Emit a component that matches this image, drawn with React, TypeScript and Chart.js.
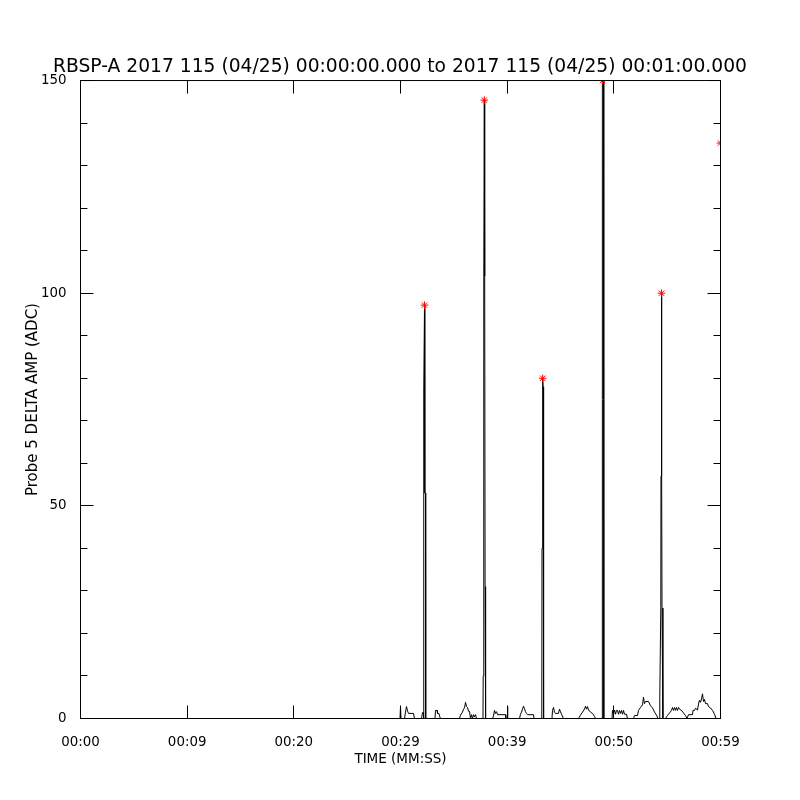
import React, { useEffect, useRef } from 'react';
import { Chart, registerables } from 'chart.js';

Chart.register(...registerables);

const TITLE = 'RBSP-A 2017 115 (04/25) 00:00:00.000 to 2017 115 (04/25) 00:01:00.000';
const X_TITLE = 'TIME (MM:SS)';
const Y_TITLE = 'Probe 5 DELTA AMP (ADC)';

const X_TICK_VALUES = [0, 10, 20, 30, 40, 50, 60];
const X_TICK_LABELS = ['00:00', '00:09', '00:20', '00:29', '00:39', '00:50', '00:59'];
const Y_MAJOR_STEP = 50;
const Y_MINOR_STEP = 10;
const Y_MAX = 150;

// seconds after 00:00:00
const TIME_S = [
  0, 29.953, 30.0, 30.047, 30.375, 30.469, 30.563, 30.656, 30.75, 31.219, 31.313,
  31.969, 32.063, 32.138, 32.166, 32.194, 32.25, 32.278, 32.344, 32.363,
  33.234, 33.281, 33.422, 33.469, 33.609, 33.656, 33.75,
  35.531, 35.625, 35.813, 35.906, 36.0, 36.094, 36.188, 36.281, 36.375, 36.469, 36.563,
  36.656, 36.75, 36.844, 36.938, 37.031, 37.125,
  37.734, 37.753, 37.809, 37.856, 37.894, 37.931, 37.969, 37.988,
  38.625, 38.719, 38.813, 38.906, 39.0, 39.094, 39.844, 39.872, 40.003, 40.031, 40.059,
  41.156, 41.25, 41.344, 41.438, 41.531, 41.625, 41.719, 41.813, 41.906, 42.469, 42.516,
  43.247, 43.266, 43.331, 43.369, 43.406, 43.425,
  44.203, 44.25, 44.344, 44.438, 44.531, 44.813, 44.906, 45.0, 45.094, 45.281,
  46.688, 46.875, 47.063, 47.25, 47.344, 47.438, 47.531, 47.625, 47.813, 48.0, 48.188, 48.281,
  48.891, 48.909, 48.938, 49.031, 49.05, 49.069,
  49.828, 49.875, 49.969, 50.063, 50.156, 50.25, 50.344, 50.438, 50.531, 50.625, 50.719,
  50.813, 50.906, 51.0, 51.188, 51.281,
  51.844, 51.938, 52.219, 52.313, 52.5, 52.688, 52.781, 52.875, 52.969, 53.25, 53.438,
  53.625, 53.813, 54.0, 54.141,
  54.281, 54.309, 54.403, 54.422, 54.469, 54.497, 54.516, 54.591, 54.609,
  54.844, 55.031, 55.219, 55.406, 55.5, 55.594, 55.688, 55.781, 55.875, 55.969, 56.063,
  56.156, 56.344, 56.531, 56.719, 56.859,
  57.0, 57.375, 57.422, 57.563, 57.656, 57.844, 57.938, 58.031, 58.125, 58.219, 58.313,
  58.406, 58.5, 58.594, 58.781, 58.875, 59.063, 59.25, 59.438, 59.578, 60.0,
];

// Probe 5 delta amplitude (ADC)
const AMP = [
  0, 0, 2.8, 0, 0, 1.5, 2.8, 1.8, 1.2, 1.2, 0,
  0, 1.4, 1.4, 0, 77, 97.2, 53, 53, 0,
  0, 1.9, 1.9, 1.2, 1.2, 0.6, 0,
  0, 0.8, 1.5, 2.2, 2.5, 3.8, 2.8, 2.6, 1.7, 1.7, 0,
  0.9, 0, 0.9, 0.4, 0.9, 0,
  0, 10, 104, 145.4, 104, 31, 31, 0,
  0, 0.6, 1.9, 1.2, 1.6, 0.9, 0.9, 0, 0, 2.8, 0,
  0, 1.0, 1.5, 2.2, 2.9, 2.3, 1.6, 1.2, 0.9, 0.9, 0,
  0, 40, 80, 78, 40, 0,
  0, 1.9, 2.6, 1.5, 1.2, 1.2, 2.2, 1.6, 1.0, 0,
  0, 0.8, 1.5, 2.2, 2.9, 2.2, 2.8, 2.0, 1.5, 1.2, 0.5, 0,
  0, 90, 150, 150, 90, 0,
  0, 1.9, 1.0, 2.0, 1.0, 1.9, 1.9, 1.0, 1.9, 1.2, 1.9,
  1.0, 1.9, 1.0, 1.0, 0,
  0, 0.7, 0.7, 1.9, 2.6, 3.2, 5.0, 3.5, 4.0, 4.0, 3.0,
  2.5, 1.5, 0.8, 0,
  0, 5, 26, 57, 100, 57, 26, 26, 0,
  0, 0.7, 1.3, 1.9, 2.6, 1.9, 2.6, 1.9, 2.6, 1.9, 2.6,
  2.2, 1.9, 1.3, 0.7, 0,
  0.9, 0.9, 1.9, 1.9, 2.4, 2.0, 3.4, 4.3, 3.8, 4.6, 5.8,
  4.0, 4.5, 3.5, 3.5, 2.8, 2.5, 1.9, 1.0, 0, 0,
];

// marked peaks (red stars)
const PEAK_TIME_S = [32.25, 37.856, 43.331, 48.938, 54.469, 60.0];
const PEAK_AMP = [97.2, 145.4, 80, 150, 100, 135.3];

const FONT = 'DejaVu Sans';

const idlFrame = {
  id: 'idlFrame',
  afterDatasetsDraw(chart: any) {
    const { ctx, chartArea } = chart;
    const { left, right, top, bottom } = chartArea;
    const xs = chart.scales.x;
    const ys = chart.scales.y;
    ctx.save();
    ctx.strokeStyle = '#000';
    ctx.lineWidth = 1;
    ctx.strokeRect(left, top, right - left, bottom - top);
    ctx.beginPath();
    for (const v of X_TICK_VALUES) {
      const px = Math.floor(xs.getPixelForValue(v)) + 0.5;
      ctx.moveTo(px, bottom);
      ctx.lineTo(px, bottom - 13);
      ctx.moveTo(px, top);
      ctx.lineTo(px, top + 13);
    }
    for (let v = 0; v <= Y_MAX; v += Y_MINOR_STEP) {
      const py = Math.floor(ys.getPixelForValue(v)) + 0.5;
      const len = v % Y_MAJOR_STEP === 0 ? 13 : 7;
      ctx.moveTo(left, py);
      ctx.lineTo(left + len, py);
      ctx.moveTo(right, py);
      ctx.lineTo(right - len, py);
    }
    ctx.stroke();
    ctx.restore();
  },
};

export default function App() {
  const ref = useRef<HTMLCanvasElement>(null);

  useEffect(() => {
    if (!ref.current) return;
    const lineData = TIME_S.map((t, i) => ({ x: t, y: AMP[i] }));
    const peakData = PEAK_TIME_S.map((t, i) => ({ x: t, y: PEAK_AMP[i] }));
    const chart = new Chart(ref.current, {
      type: 'scatter',
      data: {
        datasets: [
          {
            data: peakData,
            showLine: false,
            pointStyle: 'star',
            pointRadius: 3.8,
            pointBorderWidth: 1,
            borderColor: '#ff0000',
            backgroundColor: '#ff0000',
            clip: 0,
            order: 1,
          } as any,
          {
            data: lineData,
            showLine: true,
            borderColor: '#000000',
            borderWidth: 1,
            pointRadius: 0,
            tension: 0,
            order: 2,
          } as any,
        ],
      },
      options: {
        responsive: false,
        devicePixelRatio: 1,
        animation: false,
        events: [],
        layout: { padding: 0 },
        plugins: {
          legend: { display: false },
          tooltip: { enabled: false },
          title: {
            display: true,
            text: TITLE,
            color: '#000',
            font: { family: FONT, size: 18.7, weight: 'normal' },
            padding: { top: 55.8, bottom: 2.3 },
          },
        },
        scales: {
          x: {
            type: 'linear',
            position: 'bottom',
            min: 0,
            max: 60,
            grid: { display: false },
            border: { display: false },
            ticks: {
              stepSize: 10,
              autoSkip: false,
              maxRotation: 0,
              color: '#000',
              padding: 7.5,
              font: { family: FONT, size: 13.4 },
              callback: (value: any) => {
                const i = X_TICK_VALUES.indexOf(Number(value));
                return i >= 0 ? X_TICK_LABELS[i] : '';
              },
            },
            title: {
              display: true,
              text: X_TITLE,
              color: '#000',
              font: { family: FONT, size: 13.5 },
              padding: { top: 0, bottom: 32.9 },
            },
            afterFit: (s: any) => {
              s.height = 81.5;
            },
          },
          y: {
            type: 'linear',
            position: 'left',
            min: 0,
            max: Y_MAX,
            grid: { display: false },
            border: { display: false },
            ticks: {
              stepSize: Y_MAJOR_STEP,
              color: '#000',
              padding: 6,
              font: { family: FONT, size: 13.4 },
            },
            title: {
              display: true,
              text: Y_TITLE,
              color: '#000',
              font: { family: FONT, size: 15 },
              padding: { top: 24, bottom: 0 },
            },
            afterFit: (s: any) => {
              s.width = 80.5;
            },
          },
          y2: {
            type: 'linear',
            position: 'right',
            min: 0,
            max: Y_MAX,
            grid: { display: false },
            border: { display: false },
            ticks: { display: false },
            afterFit: (s: any) => {
              s.width = 79.5;
            },
          },
        },
      } as any,
      plugins: [idlFrame],
    });
    return () => chart.destroy();
  }, []);

  return (
    <div style={{ position: 'absolute', left: 0, top: 0, width: 800, height: 800, background: '#fff' }}>
      <canvas ref={ref} width={800} height={800} style={{ display: 'block', width: 800, height: 800 }} />
    </div>
  );
}
